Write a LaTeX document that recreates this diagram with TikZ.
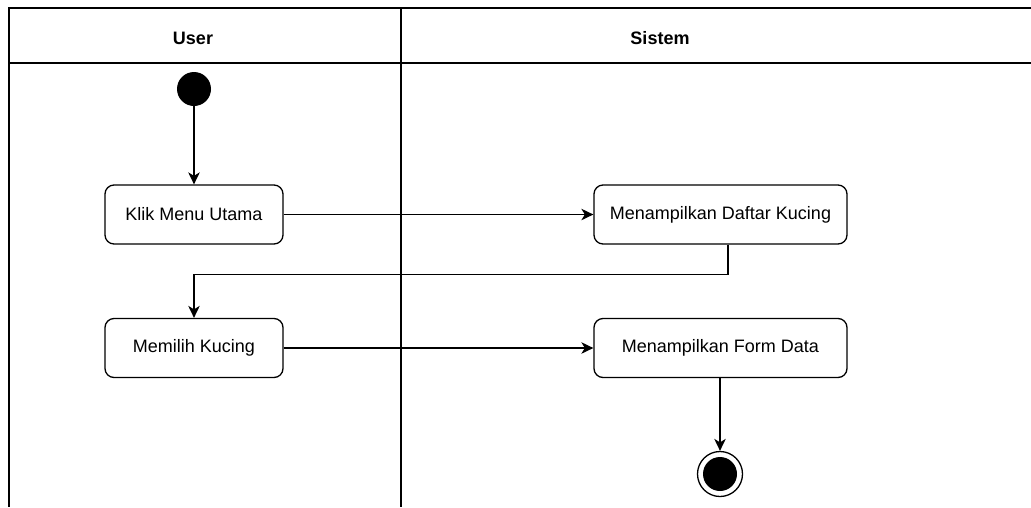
\documentclass[tikz,border=0pt]{standalone}
\usepackage{fontspec}
\setmainfont{Liberation Sans}
\usetikzlibrary{arrows.meta}

\begin{document}
\begin{tikzpicture}[x=1pt,y=-1pt,
  lane/.style={line width=1.5pt},
  action/.style={draw, line width=1.3pt, rounded corners=9pt,
    minimum width=178pt, minimum height=59pt, inner sep=0pt,
    font=\fontsize{18}{21}\selectfont},
  wide/.style={action, minimum width=253pt},
  flow/.style={line width=1.4pt, -{Stealth[length=12pt,width=11.5pt,inset=3.5pt]}},
  hdr/.style={font=\fontsize{18}{21}\selectfont\bfseries}]
\useasboundingbox (0,0) rectangle (1031,507);

% swimlane frame
\draw[lane] (1031,8) -- (9,8) -- (9,507);
\draw[lane] (9,63) -- (1031,63);
\draw[lane] (401,8) -- (401,507);

% lane headers
\node[hdr] (hUser) at (193,38) {User};
\node[hdr] (hSistem) at (660,38) {Sistem};

% activities
\node[circle, fill=black, minimum size=34pt, inner sep=0pt] (start) at (194,89) {};
\node[action] (klik) at (194,214.5) {Klik Menu Utama};
\node[wide] (daftar) at (720.5,214.5) {Menampilkan Daftar Kucing};
\node[action] (pilih) at (194,348) {Memilih Kucing};
\node[wide] (form) at (720.5,348) {Menampilkan Form Data};
\node[circle, draw, line width=1.3pt, fill=white, minimum size=45pt, inner sep=0pt] (end) at (720,474) {};
\fill (end.center) circle (17pt);

% control flow
\draw[flow] (start) -- (klik);
\draw[flow] (klik) -- (daftar);
\draw[flow] ([xshift=7.5pt]daftar.south) -- ++(0,30) -| (pilih.north);
\draw[flow] (pilih) -- (form);
\draw[flow] (form.south -| end.north) -- (end.north);
\end{tikzpicture}
\end{document}
